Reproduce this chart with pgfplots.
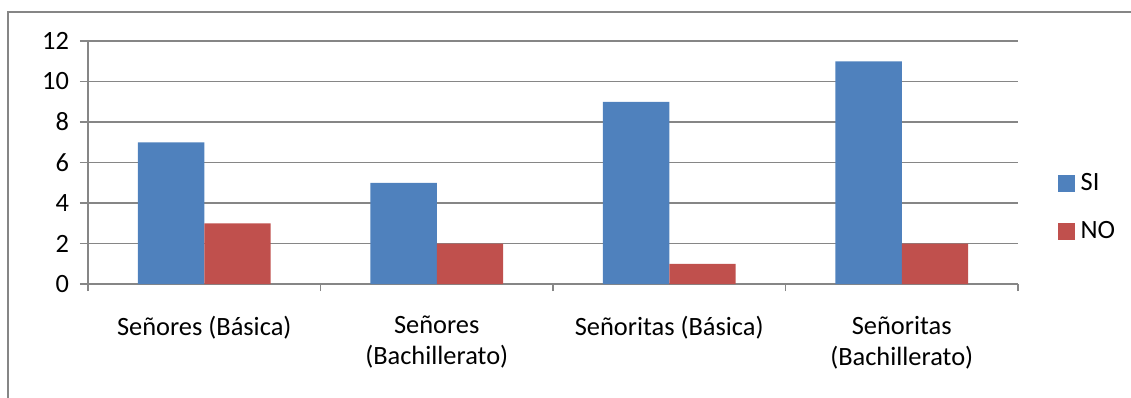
\documentclass[border=0pt]{standalone}
\usepackage{fontspec}
\setmainfont{Carlito}
\usepackage{pgfplots}
\pgfplotsset{compat=1.18}
\definecolor{siblue}{RGB}{79,129,189}
\definecolor{nored}{RGB}{192,80,77}
\definecolor{axgray}{RGB}{134,134,134}
\begin{document}
\begin{tikzpicture}[x=1pt,y=1pt]
\useasboundingbox (0,0) rectangle (565.5,198.5);
\draw[axgray, line width=0.8pt] (4,-10) -- (4,192.5) -- (580,192.5);
\begin{axis}[
  at={(44pt,56.5pt)}, anchor=south west,
  scale only axis, width=465pt, height=121.5pt,
  xmin=-0.5, xmax=3.5, ymin=0, ymax=12,
  ytick={0,2,...,12},
  xtick={0,1,2,3},
  xticklabels={{Señores (Básica)},{Señores\\(Bachillerato)},{Señoritas (Básica)},{Señoritas\\(Bachillerato)}},
  minor xtick={-0.5,0.5,1.5,2.5,3.5},
  axis x line*=bottom, axis y line*=left,
  axis line style={axgray, line width=0.8pt, -},
  ymajorgrids, grid style={axgray, line width=0.8pt},
  tick align=outside,
  major tick length=4pt, minor tick length=3.5pt,
  major x tick style={draw=none},
  minor x tick style={axgray, line width=0.8pt},
  major y tick style={axgray, line width=0.8pt},
  /pgf/number format/assume math mode=true,
  tick label style={font=\fontsize{13.2}{15.5}\selectfont},
  xticklabel style={align=center, anchor=north, yshift=-8.5pt},
  yticklabel style={anchor=east, xshift=-2pt},
  legend style={draw=none, fill=none, at={(1.036,0.315)}, anchor=west,
    font=\fontsize{13.2}{15.5}\selectfont, row sep=11pt,
    nodes={inner sep=1.5pt}},
  legend cell align=left,
]
\addplot[ybar, bar width=0.2857, bar shift=-0.14285, fill=siblue, draw=none, forget plot] coordinates {(0,7) (1,5) (2,9) (3,11)};
\addplot[ybar, bar width=0.2857, bar shift=0.14285, fill=nored, draw=none, forget plot] coordinates {(0,3) (1,2) (2,1) (3,2)};
\addlegendimage{legend image code/.code={\fill[siblue] (0pt,-4pt) rectangle (8pt,4pt);}}
\addlegendentry{\hspace{1.5pt}SI}
\addlegendimage{legend image code/.code={\fill[nored] (0pt,-4pt) rectangle (8pt,4pt);}}
\addlegendentry{\hspace{1.5pt}NO}
\end{axis}
\end{tikzpicture}
\end{document}
